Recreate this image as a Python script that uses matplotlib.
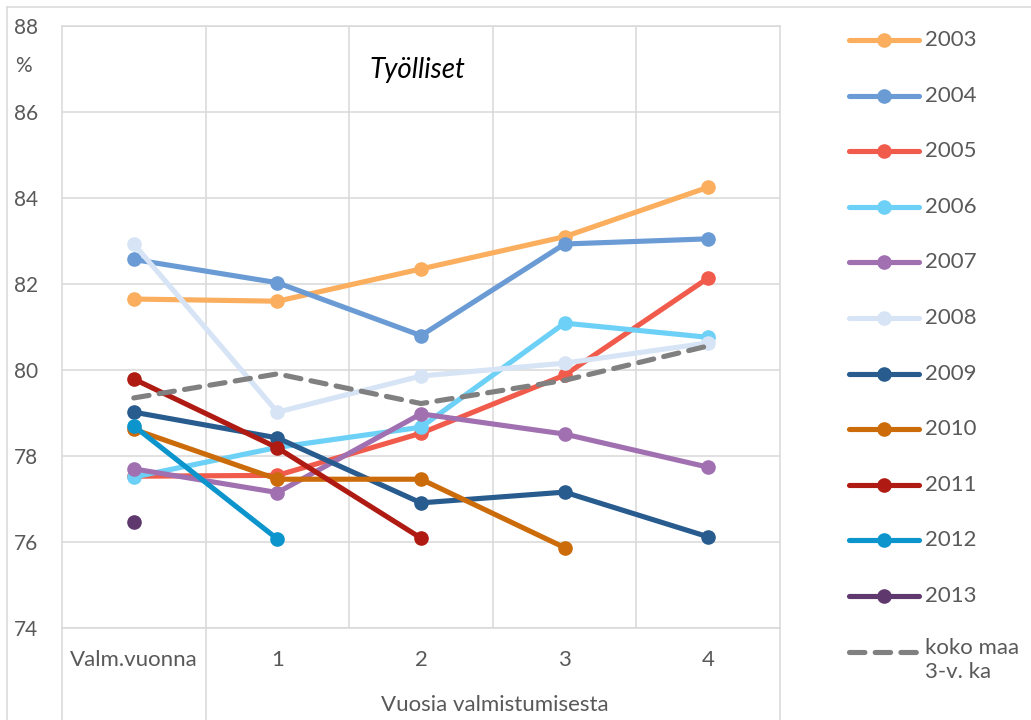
import numpy as np
import matplotlib
matplotlib.use("Agg")
import matplotlib.pyplot as plt
from matplotlib.lines import Line2D
from matplotlib.transforms import blended_transform_factory

plt.rcParams['font.family'] = ['Lato', 'DejaVu Sans']

categories = ['Valm.vuonna', '1', '2', '3', '4']
years = ['2003', '2004', '2005', '2006', '2007', '2008',
         '2009', '2010', '2011', '2012', '2013']
nan = np.nan
y2003 = [81.65, 81.6, 82.35, 83.1, 84.25]
y2004 = [82.57, 82.03, 80.8, 82.93, 83.05]
y2005 = [77.53, 77.55, 78.53, 79.88, 82.14]
y2006 = [77.51, 78.2, 78.67, 81.09, 80.76]
y2007 = [77.7, 77.15, 78.98, 78.51, 77.74]
y2008 = [82.93, 79.02, 79.86, 80.16, 80.63]
y2009 = [79.02, 78.42, 76.91, 77.16, 76.12]
y2010 = [78.62, 77.46, 77.46, 75.87, nan]
y2011 = [79.79, 78.19, 76.09, nan, nan]
y2012 = [78.7, 76.07, nan, nan, nan]
y2013 = [76.46, nan, nan, nan, nan]
koko_maa = [79.35, 79.91, 79.22, 79.76, 80.56]

series = [y2003, y2004, y2005, y2006, y2007, y2008,
          y2009, y2010, y2011, y2012, y2013]
colors = ['#FAAE5E', '#6A9BD4', '#F15B4C', '#6DD0F6', '#A070B1', '#D6E4F5',
          '#285B8E', '#CC6B0A', '#AF1B12', '#0B95CC', '#5F386D']
dash_color = '#808080'
grid_color = '#D9D9D9'
text_color = '#595959'

W, H = 1031, 720
fig = plt.figure(figsize=(W / 100, H / 100), dpi=100)
ax = fig.add_axes([62 / W, 1 - 628 / H, (780 - 62) / W, (628 - 26) / H])

x = np.arange(len(categories))
lw = 3.7
ms = 9.5
for vals, c, name in zip(series, colors, years):
    ax.plot(x, vals, color=c, lw=lw, marker='o', ms=ms,
            solid_capstyle='round', label=name)
ax.plot(x, koko_maa, color=dash_color, lw=lw, dashes=(3.0, 2.0),
        dash_capstyle='round', label='koko maa\n3-v. ka')

ax.set_xlim(-0.5, len(categories) - 0.5)
ax.set_ylim(74, 88)
ax.set_yticks(np.arange(74, 89, 2))
ax.set_xticks(x)
ax.set_xticklabels(categories)
ax.set_xticks(x[:-1] + 0.5, minor=True)
ax.grid(axis='y', color=grid_color, lw=1.1)
ax.grid(axis='x', which='minor', color=grid_color, lw=1.1)
ax.set_axisbelow(True)
ax.tick_params(axis='both', which='both', length=0, labelsize=15,
               labelcolor=text_color)
ax.tick_params(axis='y', pad=17)
ax.tick_params(axis='x', pad=16, labelsize=16)
for s in ax.spines.values():
    s.set_color(grid_color)
    s.set_linewidth(1.1)

# category grouping lines below the plot
trans = blended_transform_factory(ax.transData, ax.transAxes)
for xv in (-0.5, 0.5, len(categories) - 0.5):
    ax.plot([xv, xv], [0, -0.2], color=grid_color, lw=1.1,
            transform=trans, clip_on=False)

fig.text(495 / W, 1 - 705 / H, 'Vuosia valmistumisesta', ha='center',
         va='center', fontsize=16, color=text_color)
fig.text(15 / W, 1 - 66 / H, '%', ha='left', va='center', fontsize=15,
         color=text_color)
ax.text(0.495, 1 - (70 - 26) / 602, 'Työlliset', transform=ax.transAxes,
        ha='center', va='center', fontsize=20, style='italic', color='black')

# outer chart frame
fig.add_artist(Line2D([7 / W, 1], [1 - 7 / H] * 2, color=grid_color, lw=1.1))
fig.add_artist(Line2D([7 / W] * 2, [0, 1 - 7 / H], color=grid_color, lw=1.1))

# legend
handles, labels = ax.get_legend_handles_labels()
row0, step = 40, 55.6
for i, (h, lab) in enumerate(zip(handles, labels)):
    yf = 1 - (row0 + i * step) / H
    ln = Line2D([849 / W, 919 / W], [yf, yf], color=h.get_color(), lw=lw,
                solid_capstyle='round', dash_capstyle='round')
    if h.get_marker() == 'o':
        fig.add_artist(ln)
        fig.add_artist(Line2D([884 / W], [yf], color=h.get_color(),
                              marker='o', ms=ms, lw=0))
        fig.text(925 / W, yf, lab, ha='left', va='center', fontsize=16,
                 color=text_color)
    else:
        ln.set_dashes((3.0, 2.0))
        fig.add_artist(ln)
        fig.text(925 / W, yf + 14 / H, lab, ha='left', va='top', fontsize=16,
                 color=text_color, linespacing=1.3)

fig.savefig('out.png', dpi=100)
